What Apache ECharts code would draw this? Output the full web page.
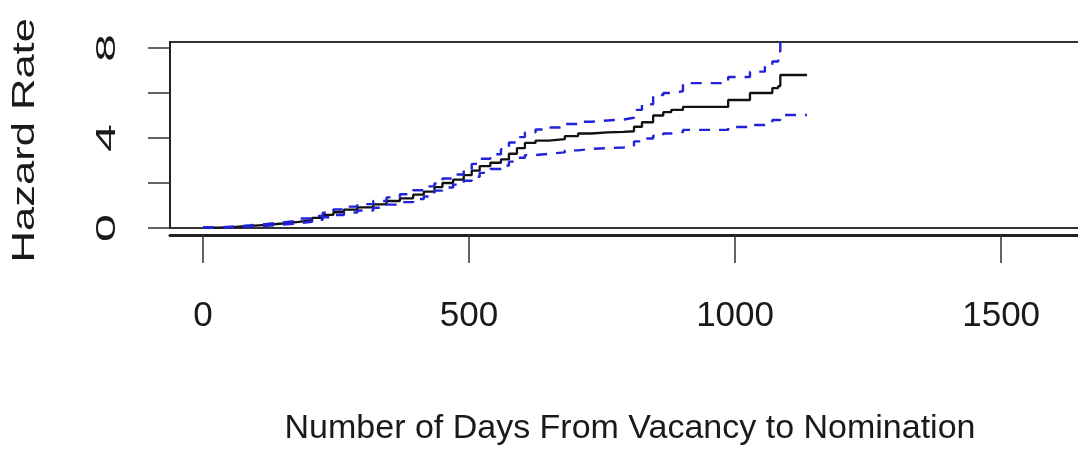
<!DOCTYPE html>
<html>
<head>
<meta charset="utf-8">
<script src="https://cdn.jsdelivr.net/npm/echarts@6/dist/echarts.min.js"></script>
<style>
  html, body { margin: 0; padding: 0; background: #fff; }
  #chart { width: 1078px; height: 454px; }
</style>
</head>
<body>
<div id="chart"></div>
<script>
// Event times (days from vacancy) shared by the estimate and its confidence band
const days = [0, 30, 60, 90, 120, 150, 180, 205, 225, 245, 265, 290, 320, 345, 370, 395, 415, 435, 450, 470,
  490, 505, 520, 540, 560, 575, 590, 605, 625, 650, 680, 705, 730, 760, 790, 810, 825, 846, 865, 880,
  902, 940, 987, 1028, 1056, 1070, 1081, 1085, 1135];

// Cumulative hazard estimate
const hazard = [0.02, 0.05, 0.09, 0.14, 0.2, 0.27, 0.35, 0.45, 0.58, 0.7, 0.82, 0.92, 1.05, 1.2, 1.32, 1.48, 1.62, 1.82, 2.0, 2.15,
  2.35, 2.55, 2.75, 2.9, 3.05, 3.3, 3.55, 3.78, 3.88, 3.95, 4.08, 4.2, 4.25, 4.27, 4.3, 4.5, 4.7, 5.0, 5.15, 5.25,
  5.38, 5.38, 5.69, 6.0, 6.0, 6.22, 6.31, 6.8, 6.8];

// Upper confidence limit
const upper = [0.03, 0.07, 0.12, 0.18, 0.25, 0.33, 0.42, 0.54, 0.68, 0.82, 0.95, 1.06, 1.2, 1.36, 1.5, 1.68, 1.85, 1.98, 2.2, 2.38,
  2.6, 2.85, 3.08, 3.28, 3.5, 3.8, 4.04, 4.25, 4.38, 4.47, 4.62, 4.72, 4.78, 4.82, 4.9, 5.25, 5.5, 5.91, 6.0, 6.08,
  6.44, 6.44, 6.71, 6.95, 7.24, 7.4, 7.85, 9.2, 9.2];

// Lower confidence limit
const lower = [0.01, 0.03, 0.06, 0.1, 0.15, 0.21, 0.28, 0.37, 0.48, 0.58, 0.69, 0.78, 0.9, 1.04, 1.15, 1.29, 1.4, 1.66, 1.8, 1.93,
  2.1, 2.28, 2.45, 2.62, 2.78, 2.95, 3.12, 3.24, 3.3, 3.36, 3.45, 3.52, 3.55, 3.58, 3.65, 3.85, 3.98, 4.1, 4.2, 4.26,
  4.36, 4.36, 4.49, 4.58, 4.62, 4.8, 4.8, 5.02, 5.02];

const xTicks = [0, 500, 1000, 1500];
const yTicks = [0, 2, 4, 6, 8];
const yTickLabels = [0, 4, 8];

const xTitle = 'Number of Days From Vacancy to Nomination';
const yTitle = 'Hazard Rate';

const FONT = '"Liberation Sans", Arial, Helvetica, sans-serif';
const TEXT = '#1a1a1a';

const pairs = vals => days.map((d, i) => [d, vals[i]]);

const chart = echarts.init(document.getElementById('chart'));

const option = {
  animation: false,
  backgroundColor: '#ffffff',
  grid: {
    left: 170, top: 42, width: 920, height: 186,
    outerBoundsMode: 'none', containLabel: false,
    show: true, borderColor: '#333', borderWidth: 2, backgroundColor: 'transparent'
  },
  xAxis: {
    type: 'value', min: -62, max: 1667, offset: 7,
    axisLine: { show: true, onZero: false, lineStyle: { color: '#222', width: 3 } },
    axisTick: { show: true, length: 28, customValues: xTicks, lineStyle: { color: '#333', width: 1.5 } },
    axisLabel: {
      customValues: xTicks, margin: 64, fontSize: 35, fontFamily: FONT, color: TEXT,
      formatter: v => String(v)
    },
    splitLine: { show: false },
    name: xTitle, nameLocation: 'middle', nameGap: 177,
    nameTextStyle: { fontSize: 34, fontFamily: FONT, color: TEXT }
  },
  yAxis: {
    type: 'value', min: 0, max: 8.267,
    axisLine: { show: true, onZero: false, lineStyle: { color: '#222', width: 2 } },
    axisTick: { show: true, length: 22, customValues: yTicks, lineStyle: { color: '#333', width: 1.5 } },
    axisLabel: { show: false },
    splitLine: { show: false }
  },
  series: [
    {
      name: 'estimate', type: 'line', step: 'end', showSymbol: false, data: pairs(hazard),
      lineStyle: { color: '#111', width: 2.3 }, z: 2
    },
    {
      name: 'upper', type: 'line', step: 'end', showSymbol: false, data: pairs(upper),
      lineStyle: { color: '#2222d8', width: 2.4, type: [11, 9] }, z: 3
    },
    {
      name: 'lower', type: 'line', step: 'end', showSymbol: false, data: pairs(lower),
      lineStyle: { color: '#2222d8', width: 2.4, type: [11, 9] }, z: 3
    }
  ]
};

chart.setOption(option);

// Rotated y tick labels and axis title, stretched along their reading direction
const yLabelGraphics = yTickLabels.map(v => {
  const py = chart.convertToPixel({ yAxisIndex: 0 }, v);
  return {
    type: 'text', x: 107, y: py, rotation: Math.PI / 2, scaleX: 1.8,
    style: { text: String(v), font: '28px ' + FONT, fill: TEXT, align: 'center', verticalAlign: 'middle' }
  };
});
const yMid = chart.convertToPixel({ yAxisIndex: 0 }, 3.9);
yLabelGraphics.push({
  type: 'text', x: 25, y: yMid, rotation: Math.PI / 2, scaleX: 1.36,
  style: { text: yTitle, font: '32px ' + FONT, fill: TEXT, align: 'center', verticalAlign: 'middle' }
});
chart.setOption({ graphic: yLabelGraphics });
</script>
</body>
</html>
